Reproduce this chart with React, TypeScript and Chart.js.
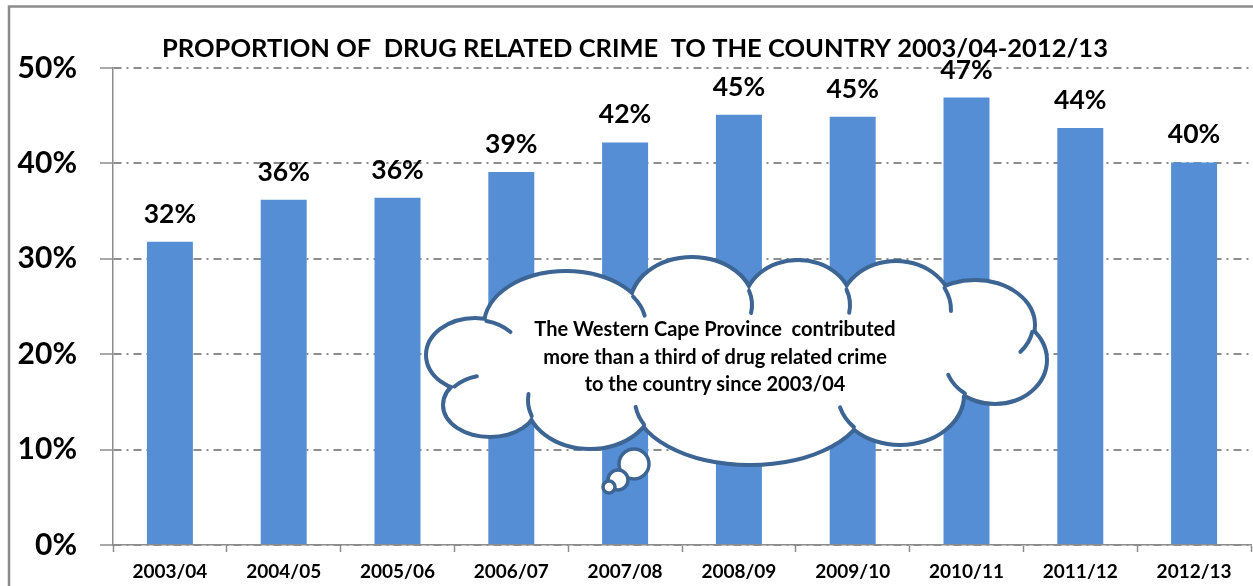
import React, { useEffect, useRef } from 'react';
import { Chart, registerables } from 'chart.js';

Chart.register(...registerables);

const categories = ['2003/04', '2004/05', '2005/06', '2006/07', '2007/08', '2008/09', '2009/10', '2010/11', '2011/12', '2012/13'];
const values = [31.8, 36.2, 36.4, 39.1, 42.2, 45.1, 44.9, 46.9, 43.7, 40.1];
const valueLabels = ['32%', '36%', '36%', '39%', '42%', '45%', '45%', '47%', '44%', '40%'];
const yMin = 0;
const yMax = 50;
const yStep = 10;
const titleText = 'PROPORTION OF  DRUG RELATED CRIME  TO THE COUNTRY 2003/04-2012/13';
const calloutLines = [
  'The Western Cape Province  contributed',
  'more than a third of drug related crime',
  'to the country since 2003/04',
];

const FONT = 'Lato, "Open Sans", "DejaVu Sans", sans-serif';
const BAR_COLOR = '#558ED5';
const GRID_COLOR = '#8C8C8C';
const CLOUD_STROKE = '#3C6594';

// cloud callout geometry (pixels): [cx, cy, rx, ry]
const CLOUD_BUMPS: number[][] = [
  [475, 355, 47, 35],
  [490, 405, 45, 30],
  [590, 400, 62, 47],
  [750, 400, 115, 63],
  [900, 395, 62, 48],
  [995, 360, 50, 42],
  [975, 325, 58, 43],
  [896, 310, 55, 47],
  [798, 305, 52, 43],
  [692, 305, 60, 46],
  [566, 325, 80, 52],
];
const CLOUD_FILL: number[] = [740, 362, 255, 68];

const inside = (e: number[], x: number, y: number) => {
  const dx = (x - e[0]) / e[2];
  const dy = (y - e[1]) / e[3];
  return dx * dx + dy * dy < 0.985;
};

const decorPlugin = {
  id: 'decor',
  beforeDraw(chart: any) {
    const ctx = chart.ctx;
    ctx.save();
    ctx.fillStyle = '#ffffff';
    ctx.fillRect(0, 0, chart.width, chart.height);
    ctx.strokeStyle = '#8C8C8C';
    ctx.lineWidth = 2.5;
    ctx.beginPath();
    ctx.moveTo(9, chart.height);
    ctx.lineTo(9, 6.5);
    ctx.lineTo(chart.width, 6.5);
    ctx.stroke();
    ctx.fillStyle = '#000';
    ctx.font = `bold 25.5px ${FONT}`;
    ctx.textAlign = 'center';
    ctx.textBaseline = 'alphabetic';
    ctx.fillText(titleText, 635, 57);
    ctx.restore();
  },
  afterDatasetsDraw(chart: any) {
    const ctx = chart.ctx;
    const meta = chart.getDatasetMeta(0);
    ctx.save();
    ctx.fillStyle = '#000';
    ctx.font = `bold 26.5px ${FONT}`;
    ctx.textAlign = 'center';
    ctx.textBaseline = 'alphabetic';
    meta.data.forEach((bar: any, i: number) => {
      ctx.fillText(valueLabels[i], bar.x, bar.y - 19);
    });
    ctx.restore();
  },
  afterDraw(chart: any) {
    const ctx = chart.ctx;
    ctx.save();
    const all = [...CLOUD_BUMPS, CLOUD_FILL];
    const path = (e: number[]) => {
      ctx.beginPath();
      ctx.ellipse(e[0], e[1], e[2], e[3], 0, 0, Math.PI * 2);
    };
    ctx.strokeStyle = CLOUD_STROKE;
    ctx.lineWidth = 8;
    all.forEach((e) => { path(e); ctx.stroke(); });
    ctx.fillStyle = '#ffffff';
    all.forEach((e) => { path(e); ctx.fill(); });
    // inner hooks: each bump's outline continues a little into the interior
    ctx.lineWidth = 4;
    ctx.lineCap = 'round';
    CLOUD_BUMPS.forEach((e, i) => {
      const others = all.filter((_, j) => j !== i);
      const exposed = (deg: number) => {
        const t = (deg * Math.PI) / 180;
        const x = e[0] + e[2] * Math.cos(t);
        const y = e[1] + e[3] * Math.sin(t);
        return !others.some((o) => inside(o, x, y));
      };
      const hookDeg = Math.min(35, (26 / ((e[2] + e[3]) / 2)) * (180 / Math.PI));
      for (let d = 0; d < 360; d++) {
        if (exposed(d) && !exposed(d + 1)) {
          ctx.beginPath();
          ctx.ellipse(e[0], e[1], e[2], e[3], 0, (d * Math.PI) / 180, ((d + hookDeg) * Math.PI) / 180);
          ctx.stroke();
        }
      }
    });
    // thought bubbles
    const bubbles: number[][] = [
      [634, 464, 15],
      [618, 480, 10],
      [609, 487, 6],
    ];
    ctx.lineWidth = 3.5;
    bubbles.forEach((b) => {
      ctx.beginPath();
      ctx.arc(b[0], b[1], b[2], 0, Math.PI * 2);
      ctx.fill();
      ctx.stroke();
    });
    ctx.fillStyle = '#000';
    ctx.font = `bold 20px ${FONT}`;
    ctx.textAlign = 'center';
    ctx.textBaseline = 'middle';
    calloutLines.forEach((line, i) => {
      ctx.fillText(line, 715, 330 + i * 27.5);
    });
    ctx.restore();
  },
};

export default function App() {
  const canvasRef = useRef<HTMLCanvasElement>(null);

  useEffect(() => {
    if (!canvasRef.current) return;
    const chart = new Chart(canvasRef.current, {
      type: 'bar',
      data: {
        labels: categories,
        datasets: [
          {
            data: values,
            backgroundColor: BAR_COLOR,
            borderWidth: 0,
            categoryPercentage: 1,
            barPercentage: 0.404,
          },
        ],
      },
      options: {
        responsive: false,
        animation: false,
        devicePixelRatio: 1,
        layout: { padding: { top: 68, right: 2, left: 0, bottom: 0 } },
        plugins: {
          legend: { display: false },
          title: { display: false },
          tooltip: { enabled: false },
        },
        scales: {
          x: {
            offset: true,
            grid: {
              offset: true,
              drawOnChartArea: false,
              drawTicks: true,
              tickLength: 7,
              tickColor: GRID_COLOR,
              tickWidth: 1.5,
            },
            border: { display: true, color: GRID_COLOR, width: 1.5 },
            ticks: {
              color: '#000',
              font: { family: FONT, size: 19, weight: 'bold' },
              padding: 8,
              maxRotation: 0,
              autoSkip: false,
            },
            afterFit: (scale: any) => { scale.height = 40; },
          },
          y: {
            min: yMin,
            max: yMax,
            ticks: {
              stepSize: yStep,
              color: '#000',
              font: { family: FONT, size: 30, weight: 'bold' },
              padding: 23,
              callback: (v: any) => `${v}%`,
            },
            grid: {
              color: GRID_COLOR,
              lineWidth: 2,
              tickBorderDash: [],
              tickLength: 13,
              tickColor: GRID_COLOR,
              tickWidth: 1.5,
            },
            border: { display: true, color: GRID_COLOR, width: 1.5, dash: [8, 5, 2, 5] },
            afterFit: (scale: any) => { scale.width = 113; },
          },
        },
      },
      plugins: [decorPlugin],
    });
    return () => chart.destroy();
  }, []);

  return (
    <div style={{ position: 'absolute', left: 0, top: 0, width: 1253, height: 586, background: '#fff' }}>
      <canvas ref={canvasRef} width={1253} height={586} style={{ display: 'block' }} />
    </div>
  );
}
